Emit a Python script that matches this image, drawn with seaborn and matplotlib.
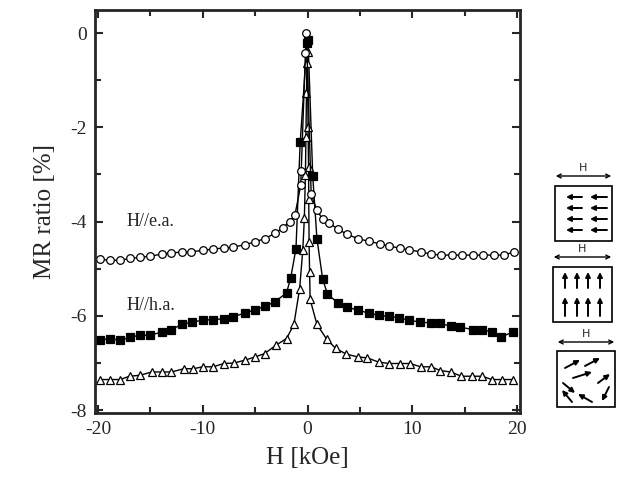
import numpy as np
import pandas as pd
import seaborn as sns
import matplotlib.pyplot as plt
from matplotlib.ticker import MultipleLocator
from matplotlib.patches import Rectangle

# Données (H en kOe, MR en %)
ea_h = [-19.8, -18.9, -17.9, -16.95, -16, -15, -13.9, -13, -12, -11.1, -10, -9, -8, -7.1,
        -6, -5, -4.1, -3.1, -2.35, -1.7, -1.2, -0.65, -0.6, -0.2, -0.1,
        0.35, 0.9, 1.45, 2.1, 2.9, 3.8, 4.8, 5.9, 6.9, 7.8, 8.8, 9.7, 10.8, 11.8, 12.8,
        13.8, 14.8, 15.8, 16.8, 17.8, 18.8, 19.7]
ea_mr = [-4.80, -4.82, -4.82, -4.78, -4.76, -4.73, -4.69, -4.66, -4.65, -4.64, -4.61, -4.58,
         -4.56, -4.54, -4.49, -4.43, -4.36, -4.25, -4.13, -4.00, -3.86, -3.23, -2.93, -0.42, 0.0,
         -3.42, -3.76, -3.95, -4.03, -4.16, -4.27, -4.36, -4.42, -4.47, -4.52, -4.56, -4.60,
         -4.64, -4.69, -4.71, -4.71, -4.71, -4.71, -4.71, -4.71, -4.71, -4.64]

ha_h = [-19.8, -18.9, -17.9, -16.95, -16, -15, -13.9, -13, -12, -11, -10, -9, -8, -7.1,
        -6, -5, -4.1, -3.1, -2, -1.6, -1.1, -0.7, -0.05, 0.05,
        0.5, 0.9, 1.45, 1.9, 2.9, 3.8, 4.8, 5.9, 6.8, 7.8, 8.7, 9.7, 10.7, 11.8, 12.7,
        13.7, 14.6, 15.8, 16.7, 17.6, 18.5, 19.6]
ha_mr = [-6.52, -6.48, -6.52, -6.45, -6.41, -6.41, -6.34, -6.29, -6.18, -6.13, -6.09, -6.08,
         -6.06, -6.02, -5.94, -5.87, -5.80, -5.70, -5.51, -5.19, -4.57, -2.32, -0.22, -0.15,
         -3.03, -4.36, -5.22, -5.53, -5.73, -5.81, -5.88, -5.94, -5.99, -6.01, -6.04, -6.09,
         -6.13, -6.15, -6.16, -6.22, -6.24, -6.29, -6.29, -6.34, -6.45, -6.34]

perp_h = [-19.8, -18.9, -17.9, -17, -16, -14.9, -13.9, -13, -11.8, -10.9, -10, -9, -8, -7,
          -6, -5, -4.1, -3, -2, -1.3, -0.75, -0.45, -0.3, -0.2, -0.15, -0.1, -0.05,
          0.0, 0.05, 0.1, 0.12, 0.15, 0.2, 0.25, 0.9, 1.85, 2.7, 3.7, 4.8, 5.7, 6.8, 7.8,
          8.8, 9.8, 10.8, 11.8, 12.7, 13.7, 14.7, 15.7, 16.7, 17.6, 18.6, 19.6]
perp_mr = [-7.35, -7.35, -7.35, -7.28, -7.26, -7.19, -7.19, -7.19, -7.12, -7.12, -7.08, -7.08,
           -7.01, -7.00, -6.94, -6.87, -6.80, -6.62, -6.48, -6.18, -5.42, -4.60, -3.93,
           -3.01, -2.20, -1.28, -0.64, -0.40, -1.99, -2.84, -3.53, -4.43, -5.07, -5.65,
           -6.18, -6.50, -6.69, -6.81, -6.87, -6.89, -6.98, -7.01, -7.01, -7.01, -7.08,
           -7.08, -7.16, -7.19, -7.28, -7.28, -7.28, -7.35, -7.35, -7.35]

x_ticks = [-20, -10, 0, 10, 20]
y_ticks = [0, -2, -4, -6, -8]

sns.set_style("ticks")
plt.rcParams['font.family'] = ['Liberation Serif', 'DejaVu Serif']
plt.rcParams['axes.unicode_minus'] = False

fig = plt.figure(figsize=(6.2, 4.86), dpi=100)
ax = fig.add_axes([95 / 620, 1 - 413 / 486, 425 / 620, 403 / 486])

# ordre de tracé : carrés, triangles puis cercles (cercle ouvert au sommet)
series = [
    (ha_h, ha_mr, dict(marker='s', mfc='black', mec='black', markersize=5.5)),
    (perp_h, perp_mr, dict(marker='^', mfc='white', mec='black', markersize=6)),
    (ea_h, ea_mr, dict(marker='o', mfc='white', mec='black', markersize=5.5)),
]
for h, mr, style in series:
    df = pd.DataFrame({'H': h, 'MR': mr})
    sns.lineplot(data=df, x='H', y='MR', ax=ax, sort=False, estimator=None,
                 color='black', linewidth=1.0, markeredgewidth=0.9, **style)

ax.set_xlim(-20.3, 20.3)
ax.set_ylim(-8.06, 0.49)
ax.set_xticks(x_ticks)
ax.set_yticks(y_ticks)
ax.xaxis.set_minor_locator(MultipleLocator(5))
ax.yaxis.set_minor_locator(MultipleLocator(1))
ax.tick_params(which='both', direction='in', top=True, right=True, width=1.5,
               labelsize=14, pad=6)
ax.tick_params(which='major', length=6)
ax.tick_params(which='minor', length=4)
for sp in ax.spines.values():
    sp.set_linewidth(2)
ax.set_xlabel('H [kOe]', fontsize=18, labelpad=6)
ax.set_ylabel('MR ratio [%]', fontsize=18, labelpad=10)

ax.text(-15, -4.0, 'H//e.a.', fontsize=13, ha='center', va='center')
ax.text(-15, -5.78, 'H//h.a.', fontsize=13, ha='center', va='center')

# Schémas à droite (coordonnées en pixels de la figure)
ov = fig.add_axes([0, 0, 1, 1])
ov.set_xlim(0, 620)
ov.set_ylim(486, 0)
ov.axis('off')

boxes = [(555, 186, 57, 55), (553, 267, 59, 55), (557, 351, 58, 56)]
arrow_y = [176, 257, 342]
for (bx, by, bw, bh), ay in zip(boxes, arrow_y):
    ov.add_patch(Rectangle((bx, by), bw, bh, fill=False, lw=1.2, ec='black'))
    ov.annotate('', xy=(bx - 2, ay), xytext=(bx + bw + 2, ay),
                arrowprops=dict(arrowstyle='<->', lw=1.0, color='black',
                                mutation_scale=7))
    ov.text(bx + bw / 2, ay - 3, 'H', fontsize=8, family='DejaVu Sans',
            ha='center', va='bottom')

def arrow(x0, y0, x1, y1):
    ov.annotate('', xy=(x1, y1), xytext=(x0, y0),
                arrowprops=dict(arrowstyle='-|>', lw=1.4, color='black',
                                mutation_scale=7, shrinkA=0, shrinkB=0))

# aimantation selon l'axe facile
for yy in [197, 208, 219, 230]:
    arrow(582, yy, 566, yy)
    arrow(607, yy, 590, yy)
# aimantation selon l'axe difficile
for xx in [565, 577, 588, 600]:
    arrow(xx, 288, xx, 272)
    arrow(xx, 316, xx, 297)
# état désordonné
rand_arrows = [(565, 368, 580, 360), (585, 366, 600, 358), (573, 378, 592, 372),
               (563, 383, 575, 393), (598, 383, 610, 374), (609, 387, 602, 401),
               (572, 402, 562, 390), (592, 402, 578, 394)]
for a in rand_arrows:
    arrow(*a)

fig.savefig('out.png', dpi=100)
